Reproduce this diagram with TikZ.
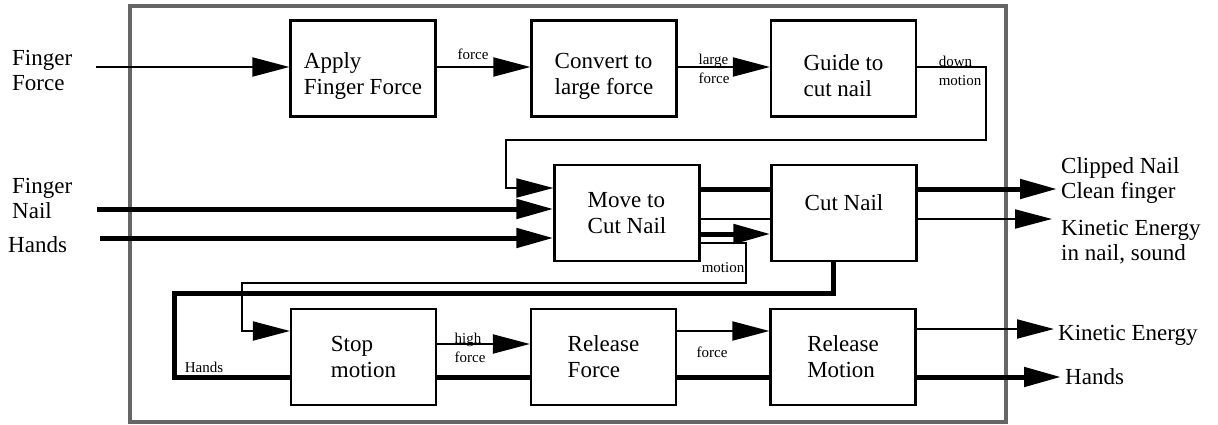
\documentclass[tikz,border=0pt]{standalone}
\usepackage{fontspec}
\setmainfont{Liberation Serif}
\usetikzlibrary{arrows.meta}

\tikzset{
  func/.style={draw, line width=2.2pt, minimum width=145pt, minimum height=96pt,
    align=left, inner sep=0pt, font=\fontsize{23}{26}\selectfont},
  lowtext/.style={text height=56pt},
  hightext/.style={text depth=21pt},
  flow/.style={line width=2pt, -{Triangle[length=37pt,width=19pt]}},
  bigflow/.style={line width=5pt, -{Triangle[length=37pt,width=19pt]}},
  thinline/.style={line width=2pt},
  thickline/.style={line width=5pt},
  lbl/.style={font=\fontsize{23}{25}\selectfont, align=left, inner sep=0pt},
  tag/.style={font=\fontsize{15}{19}\selectfont, align=left, inner sep=0pt},
}

\begin{document}
\begin{tikzpicture}[x=1pt,y=-1pt]

\useasboundingbox (0,0) rectangle (1218,425);

%% system boundary
\draw[black!60, line width=4pt] (130,6) rectangle (1006,422);

%% functions
\node[func, lowtext]  (apply)     at (363,68.5)   {Apply\\Finger Force};
\node[func, lowtext]  (convert)   at (604,68.5)   {Convert to\\large force};
\node[func, lowtext]  (guide)     at (843.5,68.5) {Guide to\\cut nail};
\node[func]           (move)      at (627,213)    {Move to\\Cut Nail};
\node[func, hightext] (cut)       at (844,213)    {Cut Nail};
\node[func]           (stop)      at (363.5,357)  {Stop\\motion};
\node[func]           (relforce)  at (603.5,357)  {Release\\Force};
\node[func]           (relmotion) at (843,357)    {Release\\Motion};

%% free ends and corners
\coordinate (ffin)   at (96,67);    %% finger force in
\coordinate (fnin)   at (97,209);   %% finger nail in
\coordinate (hdin)   at (100,238);  %% hands in
\coordinate (dmr)    at (986,140);  %% down motion corners
\coordinate (dml)    at (506,140);
\coordinate (mor)    at (746,283);  %% motion corners
\coordinate (mol)    at (242,283);
\coordinate (hdl)    at (174,293);  %% hands loop corner
\coordinate (outcn)  at (1057,189);
\coordinate (outke)  at (1052,219);
\coordinate (outke2) at (1054,329);
\coordinate (outhd)  at (1061,377);

%% outside labels
\node[lbl, anchor=west] (lff)  at (12,70)   {Finger\\Force};
\node[lbl, anchor=west] (lfn)  at (12,198)  {Finger\\Nail};
\node[lbl, anchor=west] (lhd)  at (8,245)   {Hands};
\node[lbl, anchor=west] (lcn)  at (1061,181) {Clipped Nail\\Clean finger};
\node[lbl, anchor=west] (lke)  at (1061,242) {Kinetic Energy\\in nail, sound};
\node[lbl, anchor=west] (lke2) at (1058,335) {Kinetic Energy};
\node[lbl, anchor=west] (lhd2) at (1065,377) {Hands};

%% flow labels
\node[tag] (tforce)  at (473,54)  {force};
\node[tag] (tlarge)  at (714,69)  {large\\force};
\node[tag] (tdown)   at (960,71)  {down\\motion};
\node[tag] (tmotion) at (723,268) {motion};
\node[tag] (thands)  at (204,367) {Hands};
\node[tag] (thigh)   at (470,348) {high\\force};
\node[tag] (tforce2) at (712,352) {force};

%% top row
\draw[flow] (ffin) -- (ffin -| apply.west);
\draw[flow] (apply.east |- ffin) -- (ffin -| convert.west);
\draw[flow] (convert.east |- ffin) -- (ffin -| guide.west);
\draw[flow] (guide.east |- ffin) -| (dmr) -- (dml) |- ([yshift=25pt]move.west);

%% middle row
\draw[bigflow] (fnin) -- (fnin -| move.west);
\draw[bigflow] (hdin) -- (hdin -| move.west);
\draw[thickline] ([yshift=24pt]move.east) -- ([yshift=24pt]cut.west);
\draw[thinline] ([yshift=-6pt]move.east) -- ([yshift=-6pt]cut.west);
\draw[bigflow] ([yshift=-21pt]move.east) -- ([yshift=-21pt]cut.west);
\draw[bigflow] (cut.east |- outcn) -- (outcn);
\draw[flow] (cut.east |- outke) -- (outke);

%% loops down
\draw[flow] ([yshift=-30pt]move.east) -| (mor) -- (mol) |- ([yshift=26pt]stop.west);
\draw[thickline] ([xshift=-11pt]cut.south) |- (hdl) |- ([yshift=-20pt]stop.west);

%% bottom row
\draw[flow] ([yshift=13pt]stop.east) -- ([yshift=13pt]relforce.west);
\draw[thickline] ([yshift=-20pt]stop.east) -- ([yshift=-20pt]relforce.west);
\draw[flow] ([yshift=26pt]relforce.east) -- ([yshift=26pt]relmotion.west);
\draw[thickline] ([yshift=-20pt]relforce.east) -- ([yshift=-20pt]relmotion.west);
\draw[flow] (relmotion.east |- outke2) -- (outke2);
\draw[bigflow] (relmotion.east |- outhd) -- (outhd);

\end{tikzpicture}
\end{document}
